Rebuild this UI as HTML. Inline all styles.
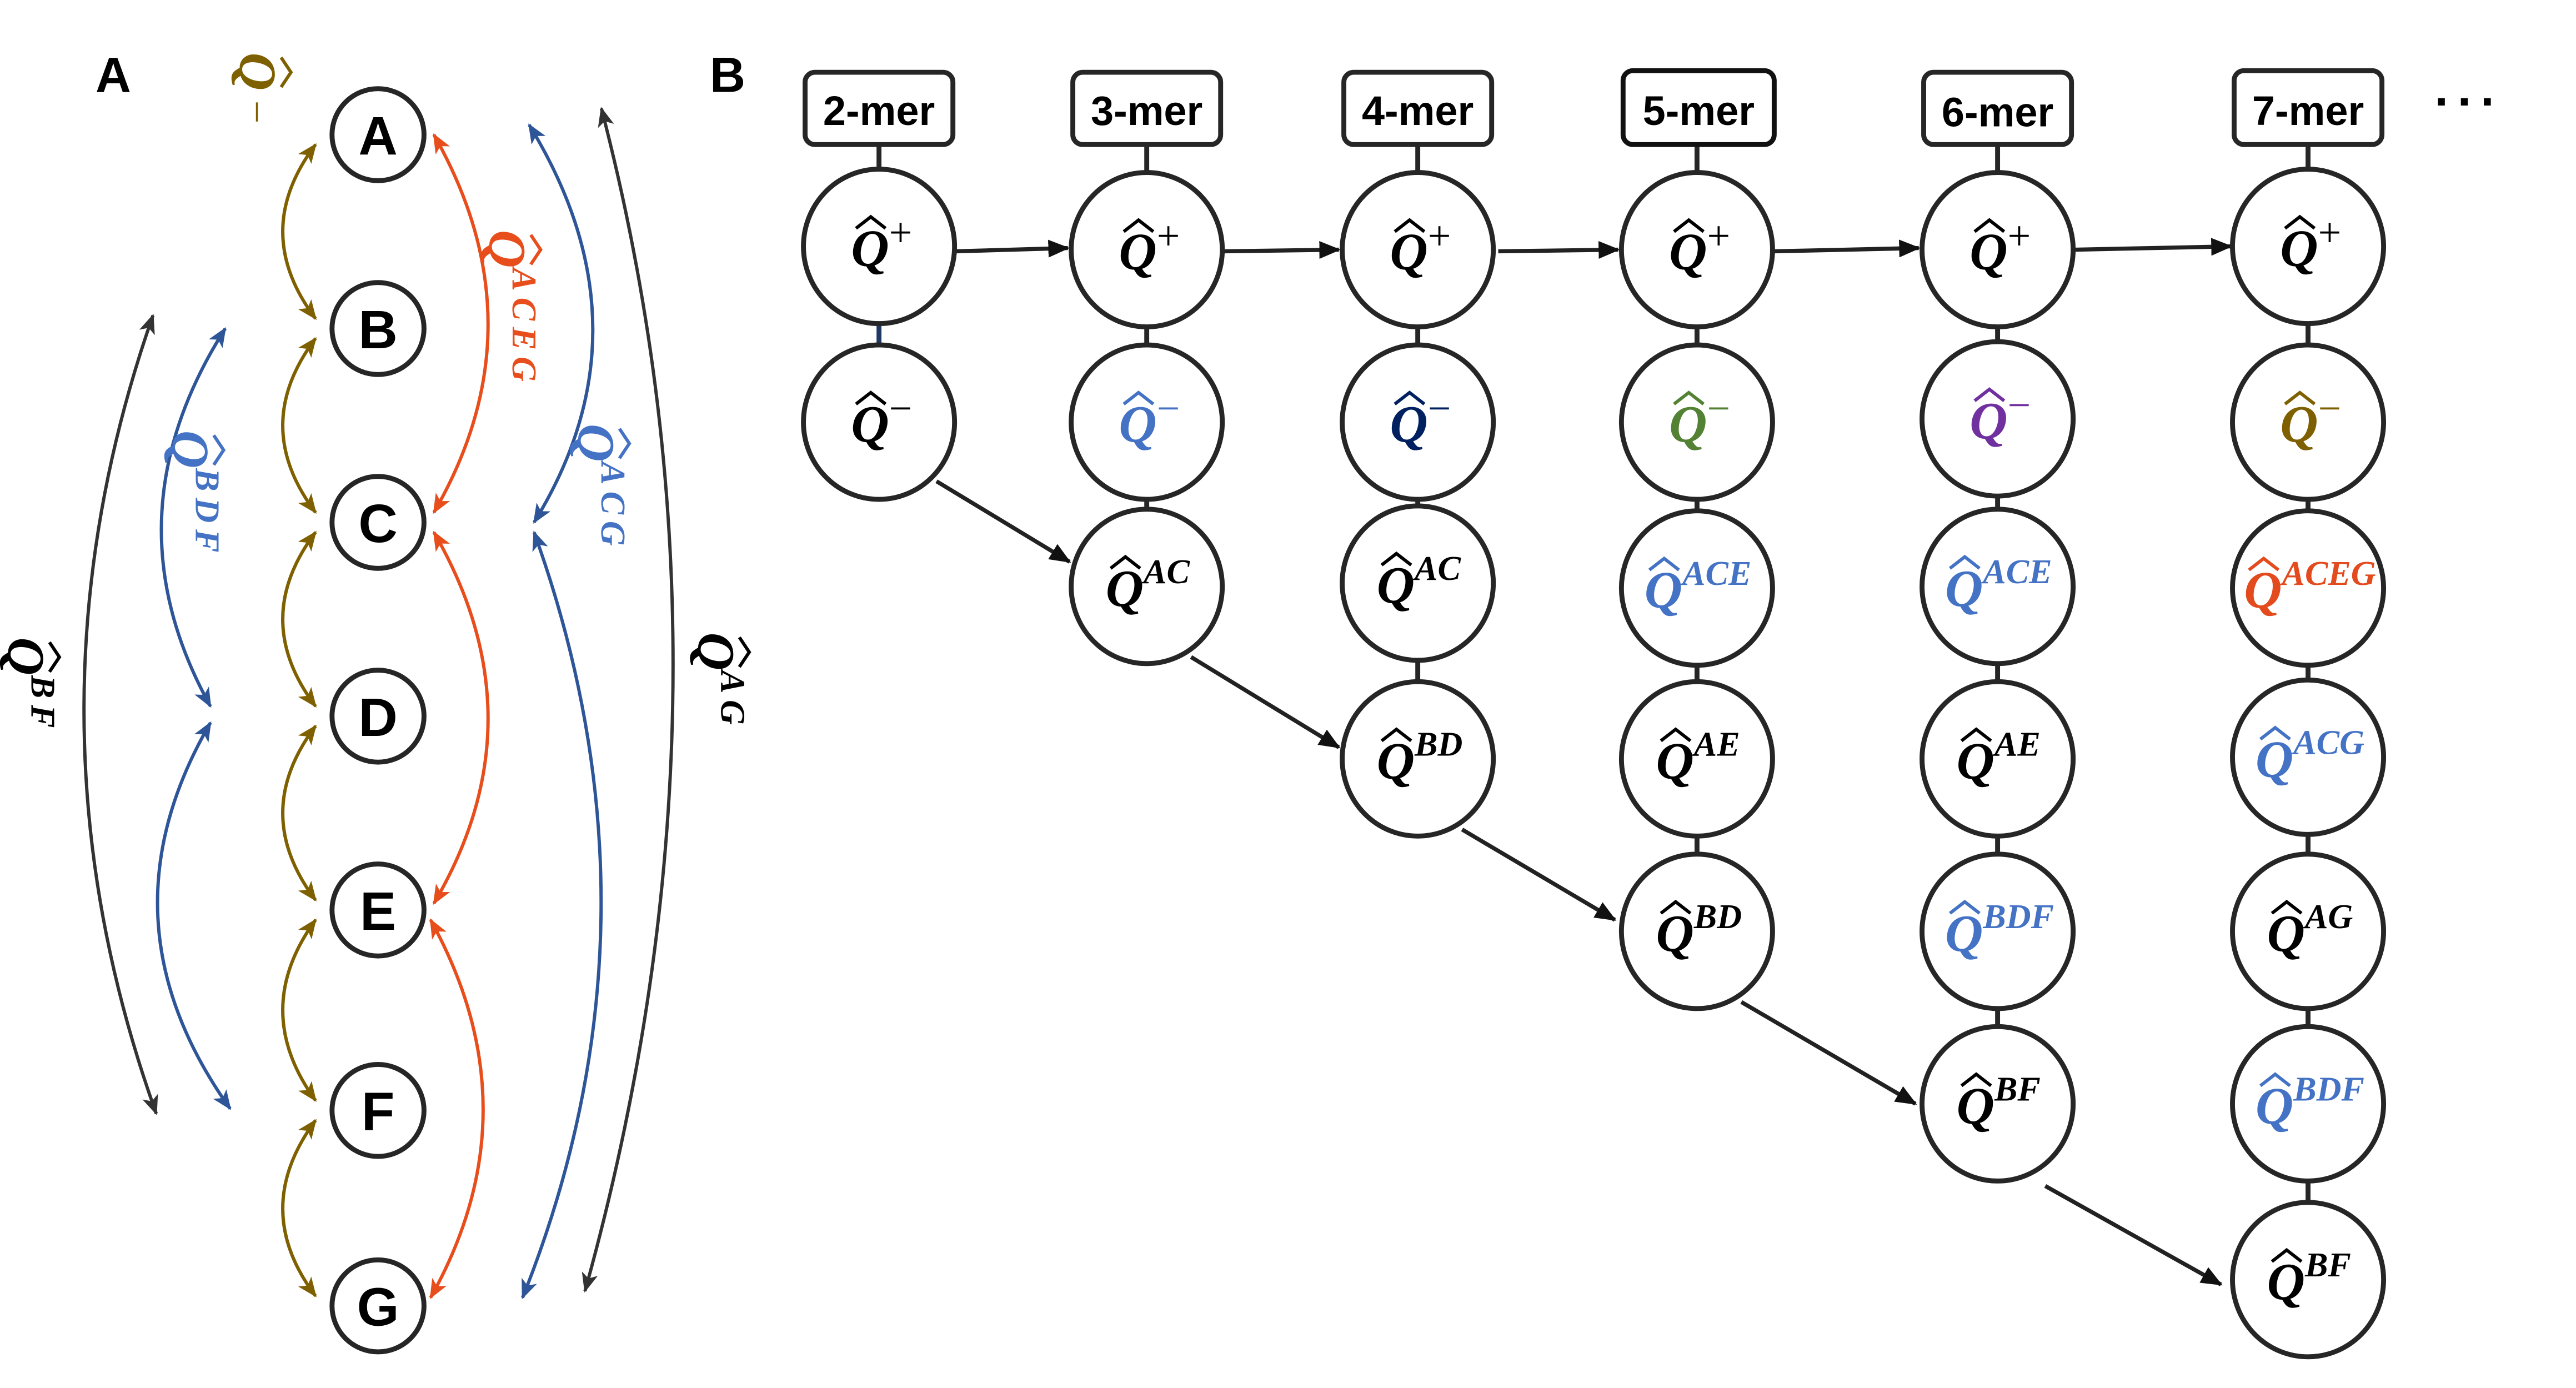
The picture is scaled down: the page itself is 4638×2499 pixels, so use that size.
<!DOCTYPE html>
<html><head><meta charset="utf-8"><style>html,body{margin:0;padding:0;background:#fff}svg{display:block}</style></head>
<body>
<svg xmlns="http://www.w3.org/2000/svg" width="4638" height="2499" viewBox="0 0 1568 845">
<defs>
<marker id="mb" viewBox="0 0 12 10" refX="11" refY="5" markerWidth="12" markerHeight="10" markerUnits="userSpaceOnUse" orient="auto-start-reverse"><path d="M0,0 L12,5 L0,10 L3,5 Z" fill="#7f6000"/></marker>
<marker id="mo" viewBox="0 0 12 10" refX="11" refY="5" markerWidth="12" markerHeight="10" markerUnits="userSpaceOnUse" orient="auto-start-reverse"><path d="M0,0 L12,5 L0,10 L3,5 Z" fill="#e84d1c"/></marker>
<marker id="mu" viewBox="0 0 12 10" refX="11" refY="5" markerWidth="12" markerHeight="10" markerUnits="userSpaceOnUse" orient="auto-start-reverse"><path d="M0,0 L12,5 L0,10 L3,5 Z" fill="#2e5597"/></marker>
<marker id="mk" viewBox="0 0 12 10" refX="11" refY="5" markerWidth="12" markerHeight="10" markerUnits="userSpaceOnUse" orient="auto-start-reverse"><path d="M0,0 L12,5 L0,10 L3,5 Z" fill="#333"/></marker>
<marker id="ma" viewBox="0 0 12 10" refX="11" refY="5" markerWidth="13" markerHeight="11" markerUnits="userSpaceOnUse" orient="auto"><path d="M0,0 L12,5 L0,10 Z" fill="#111"/></marker>
</defs>
<style>
.lt{font-family:"Liberation Sans",sans-serif;font-weight:bold;fill:#000}
.q{font-family:"Liberation Serif",serif;font-style:italic;font-weight:bold;font-size:32px}
.s{font-size:21px}
.rs{font-size:21px;letter-spacing:4px}
.pm{font-style:normal;font-weight:normal;font-size:25px}
.hat{fill:none;stroke-width:2}
</style>

<text class="lt" x="58" y="56" font-size="30">A</text>
<text class="lt" x="432" y="56" font-size="30">B</text>

<g fill="none" stroke-width="2">
<g stroke="#7f6000" marker-start="url(#mb)" marker-end="url(#mb)">
<path d="M192,88 Q152,141 192,194"/>
<path d="M192,206 Q152,259 192,312"/>
<path d="M192,324 Q152,377 192,430"/>
<path d="M192,442 Q152,495 192,548"/>
<path d="M192,560 Q152,615 192,670"/>
<path d="M192,682 Q152,736 192,789"/>
</g>
<g stroke="#e84d1c" marker-start="url(#mo)" marker-end="url(#mo)">
<path d="M264,82 Q330,198 264,312"/>
<path d="M264,324 Q330,438 264,550"/>
<path d="M262,560 Q326,676 262,790"/>
</g>
<g stroke="#2e5597" marker-start="url(#mu)" marker-end="url(#mu)">
<path d="M322,76 Q398,200 325,318"/>
<path d="M325,324 Q410,560 318,790"/>
<path d="M137,200 Q64,315 128,430"/>
<path d="M128,440 Q58,560 140,675"/>
</g>
<g stroke="#333" marker-start="url(#mk)" marker-end="url(#mk)">
<path d="M366,66 Q458,420 356,786"/>
<path d="M93,192 Q8,435 95,678"/>
</g>
</g>

<g fill="#fff" stroke="#262626" stroke-width="3">
<circle cx="230" cy="82" r="28"/><circle cx="230" cy="200" r="28"/><circle cx="230" cy="318" r="28"/>
<circle cx="230" cy="436" r="28"/><circle cx="230" cy="554" r="28"/><circle cx="230" cy="676" r="28"/><circle cx="230" cy="795" r="28"/>
</g>
<g class="lt" font-size="33" text-anchor="middle" fill="#222">
<text x="230" y="94">A</text><text x="230" y="212">B</text><text x="230" y="330">C</text>
<text x="230" y="448">D</text><text x="230" y="566">E</text><text x="230" y="688">F</text><text x="230" y="807">G</text>
</g>

<g transform="translate(146,32) rotate(90)" fill="#7f6000"><path class="hat" stroke="#7f6000" d="M3,-25 L12,-31 L21,-25"/><text class="q" x="0" y="0">Q<tspan class="pm" dx="6" dy="-2">−</tspan></text></g>
<g transform="translate(298,140) rotate(90)" fill="#e84d1c"><path class="hat" stroke="#e84d1c" d="M3,-25 L12,-31 L21,-25"/><text class="q" x="0" y="0">Q<tspan class="rs" dy="-14">ACEG</tspan></text></g>
<g transform="translate(352,258) rotate(90)" fill="#4472c4"><path class="hat" stroke="#4472c4" d="M3,-25 L12,-31 L21,-25"/><text class="q" x="0" y="0">Q<tspan class="rs" dy="-14">ACG</tspan></text></g>
<g transform="translate(425,385) rotate(90)" fill="#000"><path class="hat" stroke="#000" d="M3,-25 L12,-31 L21,-25"/><text class="q" x="0" y="0">Q<tspan class="rs" dy="-14">AG</tspan></text></g>
<g transform="translate(105,262) rotate(90)" fill="#4472c4"><path class="hat" stroke="#4472c4" d="M3,-25 L12,-31 L21,-25"/><text class="q" x="0" y="0">Q<tspan class="rs" dy="-14">BDF</tspan></text></g>
<g transform="translate(5,388) rotate(90)" fill="#000"><path class="hat" stroke="#000" d="M3,-25 L12,-31 L21,-25"/><text class="q" x="0" y="0">Q<tspan class="rs" dy="-14">BF</tspan></text></g>

<g stroke="#262626" stroke-width="3">
<line x1="535" y1="88" x2="535" y2="103"/><line x1="698" y1="88" x2="698" y2="105"/><line x1="863" y1="88" x2="863" y2="105"/>
<line x1="1033" y1="88" x2="1033" y2="105"/><line x1="1216" y1="88" x2="1216" y2="105"/><line x1="1405" y1="88" x2="1405" y2="103"/>
<line x1="535" y1="197" x2="535" y2="210" stroke="#1f3864"/>
<line x1="698" y1="199" x2="698" y2="210"/><line x1="698" y1="304" x2="698" y2="310"/>
<line x1="863" y1="199" x2="863" y2="210"/><line x1="863" y1="304" x2="863" y2="308"/><line x1="863" y1="402" x2="863" y2="415"/>
<line x1="1033" y1="199" x2="1033" y2="210"/><line x1="1033" y1="304" x2="1033" y2="311"/><line x1="1033" y1="405" x2="1033" y2="415"/><line x1="1033" y1="509" x2="1033" y2="520"/>
<line x1="1216" y1="199" x2="1216" y2="208"/><line x1="1216" y1="302" x2="1216" y2="310"/><line x1="1216" y1="404" x2="1216" y2="415"/><line x1="1216" y1="509" x2="1216" y2="520"/><line x1="1216" y1="614" x2="1216" y2="625"/>
<line x1="1405" y1="197" x2="1405" y2="210"/><line x1="1405" y1="304" x2="1405" y2="311"/><line x1="1405" y1="405" x2="1405" y2="414"/><line x1="1405" y1="508" x2="1405" y2="520"/><line x1="1405" y1="614" x2="1405" y2="625"/><line x1="1405" y1="719" x2="1405" y2="732"/>
</g>
<g stroke="#222" stroke-width="2.5" marker-end="url(#ma)">
<line x1="582" y1="153" x2="650" y2="151"/><line x1="745" y1="153" x2="815" y2="152"/><line x1="912" y1="153" x2="985" y2="152"/>
<line x1="1080" y1="153" x2="1168" y2="151"/><line x1="1263" y1="152" x2="1358" y2="150"/>
<line x1="570" y1="293" x2="651" y2="342"/><line x1="725" y1="400" x2="815" y2="455"/><line x1="890" y1="505" x2="983" y2="560"/>
<line x1="1060" y1="610" x2="1166" y2="672"/><line x1="1245" y1="722" x2="1352" y2="782"/>
</g>

<g fill="#fff" stroke="#262626" stroke-width="3">
<rect x="490" y="44" width="90" height="44" rx="6"/><rect x="653" y="44" width="90" height="44" rx="6"/>
<rect x="818" y="44" width="90" height="44" rx="6"/><rect x="988" y="43" width="92" height="45" rx="6" stroke="#111"/>
<rect x="1171" y="44" width="90" height="44" rx="6"/><rect x="1360" y="43" width="90" height="45" rx="6"/>
</g>
<g class="lt" font-size="25" text-anchor="middle">
<text x="535" y="76">2-mer</text><text x="698" y="76">3-mer</text><text x="863" y="76">4-mer</text>
<text x="1034" y="76">5-mer</text><text x="1216" y="77">6-mer</text><text x="1405" y="76">7-mer</text>
</g>
<text class="lt" x="1482" y="72" font-size="30" letter-spacing="4">···</text>

<g fill="#fff" stroke="#262626" stroke-width="3">
<ellipse cx="535" cy="150" rx="46" ry="47"/><ellipse cx="535" cy="257" rx="46" ry="47"/>
<ellipse cx="698" cy="152" rx="46" ry="47"/><ellipse cx="698" cy="257" rx="46" ry="47"/><ellipse cx="698" cy="357" rx="46" ry="47"/>
<ellipse cx="863" cy="152" rx="46" ry="47"/><ellipse cx="863" cy="257" rx="46" ry="47"/><ellipse cx="863" cy="355" rx="46" ry="47"/><ellipse cx="863" cy="462" rx="46" ry="47"/>
<ellipse cx="1033" cy="152" rx="46" ry="47"/><ellipse cx="1033" cy="257" rx="46" ry="47"/><ellipse cx="1033" cy="358" rx="46" ry="47"/><ellipse cx="1033" cy="462" rx="46" ry="47"/><ellipse cx="1033" cy="567" rx="46" ry="47"/>
<ellipse cx="1216" cy="152" rx="46" ry="47"/><ellipse cx="1216" cy="255" rx="46" ry="47"/><ellipse cx="1216" cy="357" rx="46" ry="47"/><ellipse cx="1216" cy="462" rx="46" ry="47"/><ellipse cx="1216" cy="567" rx="46" ry="47"/><ellipse cx="1216" cy="672" rx="46" ry="47"/>
<ellipse cx="1405" cy="150" rx="46" ry="47"/><ellipse cx="1405" cy="257" rx="46" ry="47"/><ellipse cx="1405" cy="358" rx="46" ry="47"/><ellipse cx="1405" cy="461" rx="46" ry="47"/><ellipse cx="1405" cy="567" rx="46" ry="47"/><ellipse cx="1405" cy="672" rx="46" ry="47"/><ellipse cx="1405" cy="779" rx="46" ry="47"/>
</g>

<g class="q">
<g fill="#000"><path class="hat" stroke="#000" d="M521,139 L530,132 L539,139"/><text x="518" y="162">Q<tspan class="pm" dy="-12">+</tspan></text></g>
<g fill="#000"><path class="hat" stroke="#000" d="M521,246 L530,239 L539,246"/><text x="518" y="269">Q<tspan class="pm" dy="-12">−</tspan></text></g>
<g fill="#000"><path class="hat" stroke="#000" d="M684,141 L693,134 L702,141"/><text x="681" y="164">Q<tspan class="pm" dy="-12">+</tspan></text></g>
<g fill="#4472c4"><path class="hat" stroke="#4472c4" d="M684,246 L693,239 L702,246"/><text x="681" y="269">Q<tspan class="pm" dy="-12">−</tspan></text></g>
<g fill="#000"><path class="hat" stroke="#000" d="M676,346 L685,339 L694,346"/><text x="673" y="369">Q<tspan class="s" dy="-14">AC</tspan></text></g>
<g fill="#000"><path class="hat" stroke="#000" d="M849,141 L858,134 L867,141"/><text x="846" y="164">Q<tspan class="pm" dy="-12">+</tspan></text></g>
<g fill="#002060"><path class="hat" stroke="#002060" d="M849,246 L858,239 L867,246"/><text x="846" y="269">Q<tspan class="pm" dy="-12">−</tspan></text></g>
<g fill="#000"><path class="hat" stroke="#000" d="M841,344 L850,337 L859,344"/><text x="838" y="367">Q<tspan class="s" dy="-14">AC</tspan></text></g>
<g fill="#000"><path class="hat" stroke="#000" d="M841,451 L850,444 L859,451"/><text x="838" y="474">Q<tspan class="s" dy="-14">BD</tspan></text></g>
<g fill="#000"><path class="hat" stroke="#000" d="M1019,141 L1028,134 L1037,141"/><text x="1016" y="164">Q<tspan class="pm" dy="-12">+</tspan></text></g>
<g fill="#548235"><path class="hat" stroke="#548235" d="M1019,246 L1028,239 L1037,246"/><text x="1016" y="269">Q<tspan class="pm" dy="-12">−</tspan></text></g>
<g fill="#4472c4"><path class="hat" stroke="#4472c4" d="M1004,347 L1013,340 L1022,347"/><text x="1001" y="370">Q<tspan class="s" dy="-14">ACE</tspan></text></g>
<g fill="#000"><path class="hat" stroke="#000" d="M1011,451 L1020,444 L1029,451"/><text x="1008" y="474">Q<tspan class="s" dy="-14">AE</tspan></text></g>
<g fill="#000"><path class="hat" stroke="#000" d="M1011,556 L1020,549 L1029,556"/><text x="1008" y="579">Q<tspan class="s" dy="-14">BD</tspan></text></g>
<g fill="#000"><path class="hat" stroke="#000" d="M1202,141 L1211,134 L1220,141"/><text x="1199" y="164">Q<tspan class="pm" dy="-12">+</tspan></text></g>
<g fill="#7030a0"><path class="hat" stroke="#7030a0" d="M1202,244 L1211,237 L1220,244"/><text x="1199" y="267">Q<tspan class="pm" dy="-12">−</tspan></text></g>
<g fill="#4472c4"><path class="hat" stroke="#4472c4" d="M1187,346 L1196,339 L1205,346"/><text x="1184" y="369">Q<tspan class="s" dy="-14">ACE</tspan></text></g>
<g fill="#000"><path class="hat" stroke="#000" d="M1194,451 L1203,444 L1212,451"/><text x="1191" y="474">Q<tspan class="s" dy="-14">AE</tspan></text></g>
<g fill="#4472c4"><path class="hat" stroke="#4472c4" d="M1187,556 L1196,549 L1205,556"/><text x="1184" y="579">Q<tspan class="s" dy="-14">BDF</tspan></text></g>
<g fill="#000"><path class="hat" stroke="#000" d="M1194,661 L1203,654 L1212,661"/><text x="1191" y="684">Q<tspan class="s" dy="-14">BF</tspan></text></g>
<g fill="#000"><path class="hat" stroke="#000" d="M1391,139 L1400,132 L1409,139"/><text x="1388" y="162">Q<tspan class="pm" dy="-12">+</tspan></text></g>
<g fill="#7f6000"><path class="hat" stroke="#7f6000" d="M1391,246 L1400,239 L1409,246"/><text x="1388" y="269">Q<tspan class="pm" dy="-12">−</tspan></text></g>
<g fill="#e34a1e"><path class="hat" stroke="#e34a1e" d="M1369,347 L1378,340 L1387,347"/><text x="1366" y="370">Q<tspan class="s" dy="-14">ACEG</tspan></text></g>
<g fill="#4472c4"><path class="hat" stroke="#4472c4" d="M1376,450 L1385,443 L1394,450"/><text x="1373" y="473">Q<tspan class="s" dy="-14">ACG</tspan></text></g>
<g fill="#000"><path class="hat" stroke="#000" d="M1383,556 L1392,549 L1401,556"/><text x="1380" y="579">Q<tspan class="s" dy="-14">AG</tspan></text></g>
<g fill="#4472c4"><path class="hat" stroke="#4472c4" d="M1376,661 L1385,654 L1394,661"/><text x="1373" y="684">Q<tspan class="s" dy="-14">BDF</tspan></text></g>
<g fill="#000"><path class="hat" stroke="#000" d="M1383,768 L1392,761 L1401,768"/><text x="1380" y="791">Q<tspan class="s" dy="-14">BF</tspan></text></g>
</g>
</svg>
</body></html>
